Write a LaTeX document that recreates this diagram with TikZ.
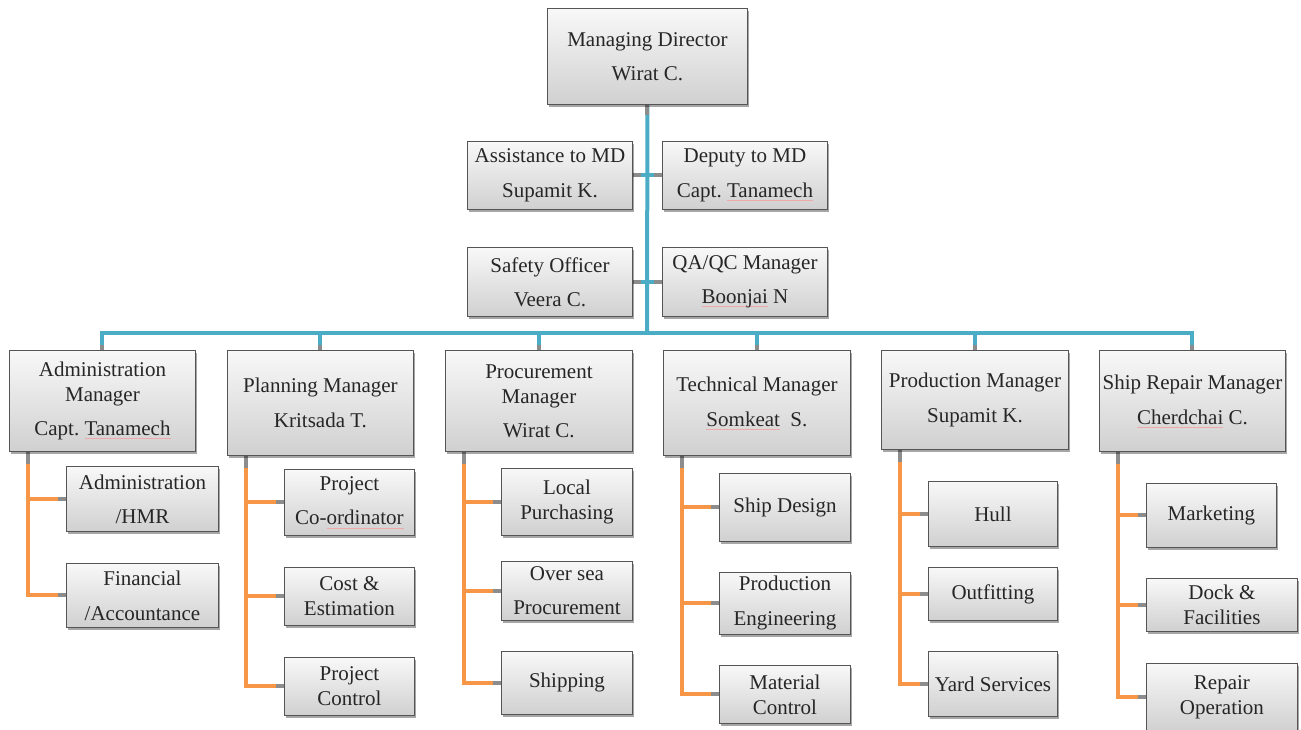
\documentclass[tikz,border=0pt]{standalone}
\usepackage{fontspec}
\setmainfont{Liberation Serif}
\usetikzlibrary{shadows,backgrounds}
\definecolor{boxtop}{RGB}{248,248,248}
\definecolor{boxbot}{RGB}{208,208,208}
\definecolor{boxline}{RGB}{85,85,85}
\definecolor{busblue}{RGB}{75,172,198}
\definecolor{legorange}{RGB}{247,150,70}
\definecolor{stubgray}{RGB}{140,140,140}
\definecolor{txt}{RGB}{38,38,38}
\definecolor{spellred}{RGB}{238,170,170}
% faint red underline under a word
\newcommand\spell[1]{\setbox0\hbox{#1}\rlap{\textcolor{spellred}{\rule[-3pt]{\wd0}{0.4pt}}}#1}
\begin{document}
\begin{tikzpicture}[x=1pt,y=-1pt,
  box/.style={draw=boxline, line width=0.9pt, top color=boxtop, bottom color=boxbot,
    drop shadow={shadow xshift=2pt, shadow yshift=-3pt, opacity=0.35, fill=black},
    anchor=north west, inner sep=0pt, align=center, text=txt,
    font=\fontsize{21}{25}\selectfont},
  wh/.style 2 args={minimum width=#1pt, minimum height=#2pt},
  bus/.style={draw=busblue, line width=4pt},
  leg/.style={draw=legorange, line width=4pt, line join=miter},
  stub/.style={draw=stubgray, line width=4pt}]
\useasboundingbox (0,0) rectangle (1301,729);

% top management
\node[box, wh={200}{96}] (md) at (547,8) {Managing Director\\[9pt]Wirat C.};
\node[box, wh={165}{68}] (asst) at (467,141) {Assistance to MD\\[10pt]Supamit K.};
\node[box, wh={165}{68}] (dep) at (662,141) {Deputy to MD\\[10pt]Capt.\ \spell{Tanamech}};
\node[box, wh={165}{69}] (safe) at (467,247) {Safety Officer\\[9pt]Veera C.};
\node[box, wh={165}{69}] (qa) at (662,247) {QA/QC Manager\\[9pt]\spell{Boonjai} N};

% department managers
\node[box, wh={186}{101}] (adm) at (9,350) {Administration\\Manager\\[9pt]Capt.\ \spell{Tanamech}};
\node[box, wh={186}{105}] (pln) at (227,350) {Planning Manager\\[10pt]Kritsada T.};
\node[box, wh={187}{101}] (prc) at (445,350) {Procurement\\Manager\\[9pt]Wirat C.};
\node[box, wh={187}{105}] (tec) at (663,350) {Technical Manager\\[10pt]\spell{Somkeat}\ \ S.};
\node[box, wh={187}{99}] (prd) at (881,350) {Production Manager\\[10pt]Supamit K.};
\node[box, wh={186}{101}] (rep) at (1099,350) {Ship Repair Manager\\[10pt]\spell{Cherdchai} C.};

% sections
\node[box, wh={152}{65}] (admA) at (66,466) {Administration\\[9pt]/HMR};
\node[box, wh={152}{64}] (admB) at (66,563) {Financial\\[10pt]/Accountance};
\node[box, wh={130}{66}] (plnA) at (284,469) {Project\\[9pt]Co-\spell{ordinator}};
\node[box, wh={130}{58}] (plnB) at (284,567) {Cost \&\\Estimation};
\node[box, wh={130}{58}] (plnC) at (284,657) {Project\\Control};
\node[box, wh={131}{67}] (prcA) at (501,468) {Local\\Purchasing};
\node[box, wh={131}{59}] (prcB) at (501,561) {Over sea\\[9pt]Procurement};
\node[box, wh={131}{63}] (prcC) at (501,651) {Shipping};
\node[box, wh={131}{68}] (tecA) at (719,473) {Ship Design};
\node[box, wh={131}{62}] (tecB) at (719,572) {Production\\[10pt]Engineering};
\node[box, wh={131}{58}] (tecC) at (719,665) {Material\\Control};
\node[box, wh={129}{65}] (prdA) at (928,481) {Hull};
\node[box, wh={129}{53}] (prdB) at (928,567) {Outfitting};
\node[box, wh={129}{65}] (prdC) at (928,651) {Yard Services};
\node[box, wh={130}{64}] (repA) at (1146,483) {Marketing};
\node[box, wh={151}{53}] (repB) at (1146,578) {Dock \&\\Facilities};
\node[box, wh={151}{68}] (repC) at (1146,663) {Repair\\Operation};

\coordinate (hub) at (647,333);

\begin{scope}[on background layer]
  % blue trunk, side branches and manager bus
  \draw[bus] (md.south) -- (hub);
  \draw[bus] (asst.east) -- (asst.east -| hub);
  \draw[bus] (dep.west) -- (dep.west -| hub);
  \draw[bus] (safe.east) -- (safe.east -| hub);
  \draw[bus] (qa.west) -- (qa.west -| hub);
  \foreach \m in {adm,pln,prc,tec,prd,rep}
    \draw[bus] (\m.north) |- (hub);
  % grey stubs where blue lines meet boxes
  \draw[stub] (md.south) -- ++(0,10);
  \draw[stub] (asst.east) -- ++(8,0);
  \draw[stub] (safe.east) -- ++(8,0);
  \draw[stub] (dep.west) -- ++(-8,0);
  \draw[stub] (qa.west) -- ++(-8,0);
  \foreach \m in {adm,pln,prc,tec,prd,rep}
    \draw[stub] (\m.north) -- ++(0,-5);

  % orange section legs
  \foreach \m/\kids in {adm/{admA,admB}, pln/{plnA,plnB,plnC}, prc/{prcA,prcB,prcC},
                        tec/{tecA,tecB,tecC}, prd/{prdA,prdB,prdC}, rep/{repA,repB,repC}}{
    \foreach \k in \kids {
      \draw[leg] ([xshift=19pt]\m.south west) |- (\k.west);
      \draw[stub] (\k.west) -- ++(-8,0);
    }
    \draw[stub] ([xshift=19pt]\m.south west) -- ++(0,12);
  }
\end{scope}
\end{tikzpicture}
\end{document}
